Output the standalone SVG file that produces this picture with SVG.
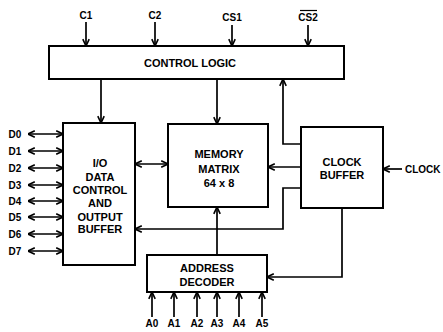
<svg xmlns="http://www.w3.org/2000/svg" width="443" height="332" viewBox="0 0 443 332">
<style>
.box{fill:#fff;stroke:#000;stroke-width:2}
.ln{fill:none;stroke:#000;stroke-width:1.7}
.t{font-family:"Liberation Sans",Arial,sans-serif;font-weight:bold;fill:#000;text-anchor:middle}
.big{font-size:11px}
.sm{font-size:10px}
</style>
<defs>
<marker id="a" viewBox="0 0 10 10" refX="9.5" refY="5" markerWidth="8" markerHeight="9" markerUnits="userSpaceOnUse" orient="auto-start-reverse">
<path d="M1,1 L9.5,5 L1,9" fill="none" stroke="#000" stroke-width="2"/>
</marker>
</defs>
<rect width="443" height="332" fill="#fff"/>
<g id="control-logic">
<rect class="box" x="49" y="46" width="295" height="33"/>
<text class="t big" x="190" y="67">CONTROL LOGIC</text>
</g>
<g id="io-buffer">
<rect class="box" x="63" y="123" width="72" height="142"/>
<text class="t big" x="100" y="167">I/O</text>
<text class="t big" x="100" y="181">DATA</text>
<text class="t big" x="100" y="194">CONTROL</text>
<text class="t big" x="100" y="207">AND</text>
<text class="t big" x="100" y="221">OUTPUT</text>
<text class="t big" x="100" y="233">BUFFER</text>
</g>
<g id="memory-matrix">
<rect class="box" x="168" y="124" width="100" height="83"/>
<text class="t big" x="219" y="158">MEMORY</text>
<text class="t big" x="219" y="173">MATRIX</text>
<text class="t big" x="219" y="187">64 x 8</text>
</g>
<g id="clock-buffer">
<rect class="box" x="301" y="127" width="82" height="81"/>
<text class="t big" x="342" y="166">CLOCK</text>
<text class="t big" x="342" y="179">BUFFER</text>
</g>
<g id="address-decoder">
<rect class="box" x="147" y="255" width="120" height="37"/>
<text class="t big" x="207" y="272">ADDRESS</text>
<text class="t big" x="207" y="286">DECODER</text>
</g>
<g id="labels">
<text class="t sm" x="86" y="19">C1</text>
<text class="t sm" x="155" y="19">C2</text>
<text class="t sm" x="232" y="21">CS1</text>
<text class="t sm" x="308" y="21">CS2</text>
<line x1="300" y1="10.5" x2="317" y2="10.5" stroke="#000" stroke-width="1.2"/>
<text class="t sm" x="405" y="173" style="text-anchor:start">CLOCK</text>
<text class="t sm" x="15" y="138">D0</text>
<text class="t sm" x="15" y="155">D1</text>
<text class="t sm" x="15" y="172">D2</text>
<text class="t sm" x="15" y="189">D3</text>
<text class="t sm" x="15" y="205">D4</text>
<text class="t sm" x="15" y="221">D5</text>
<text class="t sm" x="15" y="238">D6</text>
<text class="t sm" x="15" y="255">D7</text>
<text class="t sm" x="152" y="327">A0</text>
<text class="t sm" x="174" y="327">A1</text>
<text class="t sm" x="197" y="327">A2</text>
<text class="t sm" x="217" y="327">A3</text>
<text class="t sm" x="239" y="327">A4</text>
<text class="t sm" x="262" y="327">A5</text>
</g>
<g id="connectors" class="ln">
<path class="ln" d="M86,22 V46" marker-end="url(#a)"/>
<path class="ln" d="M155,22 V46" marker-end="url(#a)"/>
<path class="ln" d="M232,25 V46" marker-end="url(#a)"/>
<path class="ln" d="M308,25 V46" marker-end="url(#a)"/>
<path class="ln" d="M101,79 V123" marker-end="url(#a)"/>
<path class="ln" d="M217,79 V124" marker-end="url(#a)"/>
<path class="ln" d="M301,144 H283 V79" marker-end="url(#a)"/>
<path class="ln" d="M301,188 H283 V229 H135" marker-end="url(#a)"/>
<path class="ln" d="M301,167 H268" marker-end="url(#a)"/>
<path class="ln" d="M402,169 H383" marker-end="url(#a)"/>
<path class="ln" d="M135,164 H168" marker-start="url(#a)" marker-end="url(#a)"/>
<path class="ln" d="M217,255 V207" marker-end="url(#a)"/>
<path class="ln" d="M342,208 V277 H267" marker-end="url(#a)"/>
<path class="ln" d="M28,134 H63" marker-start="url(#a)" marker-end="url(#a)"/>
<path class="ln" d="M28,151 H63" marker-start="url(#a)" marker-end="url(#a)"/>
<path class="ln" d="M28,168 H63" marker-start="url(#a)" marker-end="url(#a)"/>
<path class="ln" d="M28,185 H63" marker-start="url(#a)" marker-end="url(#a)"/>
<path class="ln" d="M28,201 H63" marker-start="url(#a)" marker-end="url(#a)"/>
<path class="ln" d="M28,217 H63" marker-start="url(#a)" marker-end="url(#a)"/>
<path class="ln" d="M28,234 H63" marker-start="url(#a)" marker-end="url(#a)"/>
<path class="ln" d="M28,251 H63" marker-start="url(#a)" marker-end="url(#a)"/>
<path class="ln" d="M152,317 V292" marker-end="url(#a)"/>
<path class="ln" d="M174,317 V292" marker-end="url(#a)"/>
<path class="ln" d="M197,317 V292" marker-end="url(#a)"/>
<path class="ln" d="M217,317 V292" marker-end="url(#a)"/>
<path class="ln" d="M239,317 V292" marker-end="url(#a)"/>
<path class="ln" d="M262,317 V292" marker-end="url(#a)"/>
</g>
</svg>
